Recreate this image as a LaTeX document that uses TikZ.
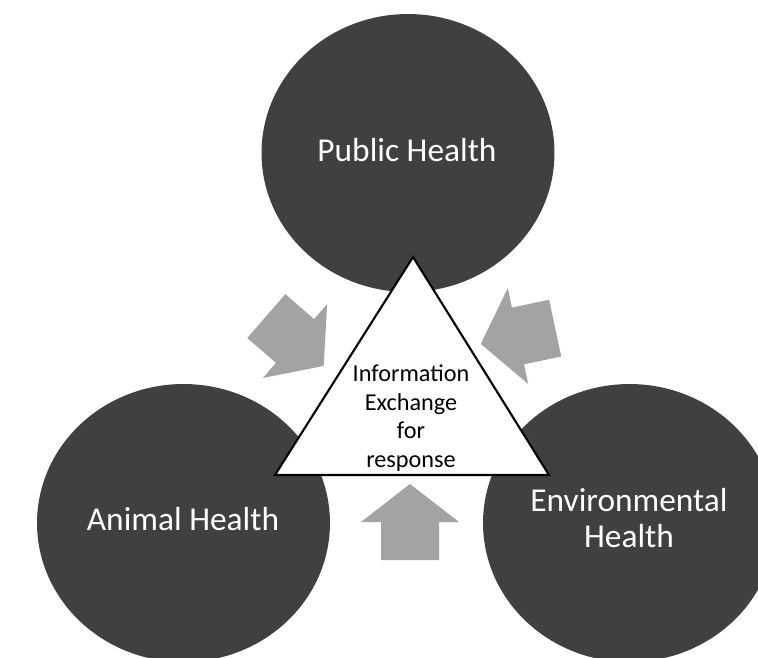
\documentclass[tikz,border=0pt]{standalone}
\usepackage{fontspec}
\setmainfont{Carlito}
\usetikzlibrary{positioning, shapes.geometric}
\definecolor{circlegray}{HTML}{404040}
\definecolor{arrowgray}{HTML}{A3A3A3}
\tikzset{
  healthcircle/.style={ellipse, fill=circlegray, minimum width=5.86cm,
    minimum height=5.56cm, inner sep=0pt},
  healthlabel/.style={text=white, align=center, font=\fontsize{19}{20}\selectfont},
  exchangetri/.style={draw=black, fill=white, line width=1.2pt, line join=miter},
  exchangetext/.style={align=center, font=\fontsize{13.8}{16.4}\selectfont},
  blockarrow/.pic={
    \fill[arrowgray] (-38,-29) -- (0,-29) -- (0,-49) -- (38,0) -- (0,49) -- (0,29) -- (-38,29) -- cycle;
  }
}
\begin{document}
\begin{tikzpicture}[x=0.02cm, y=-0.02cm]
        \useasboundingbox (0,0) rectangle (758,657);
        \clip (0,0) rectangle (758,657);
        \fill[white] (0,0) rectangle (758,657);

        % ==========================================
        % Circles
        % ==========================================
        \node[healthcircle] (public) at (408,153) {};
        \node[healthcircle] (animal) at (183.5,523) {};
        \node[healthcircle] (environ) at (629.5,523) {};
        \node[healthlabel] (publictext) at (407,150) {Public Health};
        \node[healthlabel] (animaltext) at (183,519) {Animal Health};
        \node[healthlabel] (environtext) at (629,518) {Environmental\\Health};

        % ==========================================
        % Central triangle
        % ==========================================
        \coordinate (apex) at (413,257);
        \coordinate (baseL) at (275,475);
        \coordinate (baseR) at (549,475);
        \draw[exchangetri] (apex) -- (baseR) -- (baseL) -- cycle;
        \node[exchangetext] (exchange) at (411,418) {Information\\Exchange\\for\\response};

        % ==========================================
        % Block arrows towards the triangle
        % ==========================================
        \pic[rotate=-41] at (295,341) {blockarrow};
        \pic[rotate=192] at (518,336) {blockarrow};
        \pic[rotate=90] at (410,522) {blockarrow};

    \end{tikzpicture}
\end{document}
